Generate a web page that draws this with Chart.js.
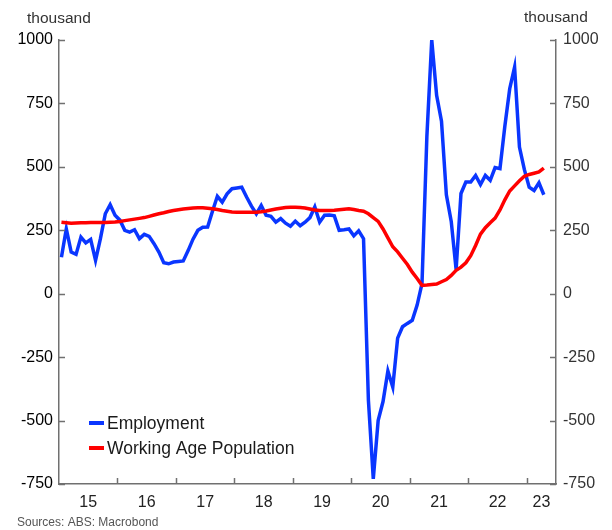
<!DOCTYPE html>
<html>
<head>
<meta charset="utf-8">
<script src="https://cdn.jsdelivr.net/npm/chart.js@4/dist/chart.umd.min.js"></script>
<style>
  html,body{margin:0;padding:0;background:#fff;}
  #wrap{position:relative;width:612px;height:530px;}
</style>
</head>
<body>
<div id="wrap"><canvas id="c" width="612" height="530"></canvas></div>
<script>
// monthly, Jan 2015 .. Apr 2023 (thousand, y/y change)
const startYear = 2015;
const employment = [
  144,256,164,155,223,200,214,131,217,315,351,309,
  290,250,243,252,217,234,226,197,164,122,118,125,
  127,129,170,215,250,262,263,325,384,361,394,414,
  417,420,381,345,315,348,309,305,282,296,278,266,
  286,268,282,300,342,282,309,310,307,250,252,255,
  228,248,217,-420,-730,-500,-425,-305,-368,-175,-130,-117,
  -105,-45,40,620,1000,782,680,390,285,95,395,440,
  440,466,430,466,447,497,493,660,808,893,578,490,
  420,407,437,390
];
const population = [
  282,280,278,279,280,280,281,281,281,281,282,283,
  285,288,291,294,297,300,305,310,315,319,324,328,
  331,334,336,338,339,339,337,335,332,328,325,322,
  321,321,321,321,321,323,326,330,334,337,340,341,
  341,340,338,334,330,328,328,328,329,331,333,335,
  332,328,325,315,300,285,255,220,185,165,140,115,
  85,60,33,34,36,38,47,56,72,92,105,122,
  150,190,235,260,280,298,330,370,405,425,445,463,
  470,475,480,495
];
const yearLabels = ['15','16','17','18','19','20','21','22','23'];
const seriesNames = ['Employment','Working Age Population'];
const yTicks = [-750,-500,-250,0,250,500,750,1000];
const xMaxMonths = 102; // axis ends mid-2023

const FONT = '"Liberation Sans", Arial, sans-serif';
const BLUE = '#0a36ff', RED = '#ff0000', AXIS = '#707070';

const toPts = arr => arr.map((v,i) => ({x: i + 0.5, y: v}));
// label positions: centre of each visible year span
const yearCenters = yearLabels.map((l,k) => {
  const a = k*12, b = Math.min((k+1)*12, xMaxMonths);
  return (a + b) / 2;
});

const extras = {
  id: 'extras',
  afterDraw(chart){
    const ctx = chart.ctx, ca = chart.chartArea;
    const ys = chart.scales.y, xs = chart.scales.x;
    ctx.save();
    ctx.strokeStyle = AXIS; ctx.lineWidth = 1.5;
    ctx.beginPath();
    yTicks.forEach(v => {
      const py = Math.round(ys.getPixelForValue(v)) + 0.5;
      ctx.moveTo(ca.left, py); ctx.lineTo(ca.left + 6, py);
      ctx.moveTo(ca.right, py); ctx.lineTo(ca.right - 6, py);
    });
    for (let k = 1; k < yearLabels.length; k++){
      const px = Math.round(xs.getPixelForValue(k*12)) + 0.5;
      ctx.moveTo(px, ca.bottom); ctx.lineTo(px, ca.bottom - 6);
    }
    ctx.stroke();

    // unit labels + source
    ctx.fillStyle = '#333';
    ctx.font = '15.5px ' + FONT;
    ctx.textBaseline = 'middle';
    ctx.textAlign = 'left';
    ctx.fillText('thousand', 27, 19);
    ctx.fillText('thousand', 524, 18);
    ctx.fillStyle = '#555';
    ctx.font = '12px ' + FONT;
    ctx.fillText('Sources: ABS: Macrobond', 17, 523);

    // legend inside plot
    const leg = [[seriesNames[0], BLUE, 423], [seriesNames[1], RED, 448]];
    ctx.font = '17.5px ' + FONT;
    ctx.lineWidth = 4;
    leg.forEach(([name, col, y]) => {
      ctx.strokeStyle = col;
      ctx.beginPath(); ctx.moveTo(89, y); ctx.lineTo(104, y); ctx.stroke();
      ctx.fillStyle = '#1a1a1a';
      ctx.fillText(name, 107, y + 1);
    });
    ctx.restore();
  }
};

new Chart(document.getElementById('c').getContext('2d'), {
  type: 'line',
  data: {
    datasets: [
      { label: seriesNames[0], data: toPts(employment), borderColor: BLUE, borderWidth: 3.5, pointRadius: 0, order: 1 },
      { label: seriesNames[1], data: toPts(population), borderColor: RED, borderWidth: 3.5, pointRadius: 0, order: 0 }
    ]
  },
  options: {
    responsive: false, animation: false,
    layout: { padding: { top: 40, left: 0, right: 0, bottom: 0 } },
    plugins: { legend: { display: false }, tooltip: { enabled: false } },
    scales: {
      x: {
        type: 'linear', min: 0, max: xMaxMonths,
        afterBuildTicks: s => { s.ticks = yearCenters.map(v => ({ value: v })); },
        afterFit: s => { s.height = 46; },
        ticks: { autoSkip: false, maxRotation: 0, padding: 9, color: '#222', font: { family: FONT, size: 16 },
          callback: (v, i) => yearLabels[i] },
        grid: { display: false, drawTicks: false },
        border: { display: true, color: AXIS, width: 1.5 }
      },
      y: {
        position: 'left', min: -750, max: 1000,
        afterBuildTicks: s => { s.ticks = yTicks.map(v => ({ value: v })); },
        afterFit: s => { s.width = 59; },
        ticks: { padding: 6, color: '#000', font: { family: FONT, size: 16 }, callback: v => String(v) },
        grid: { display: false, drawTicks: false },
        border: { display: true, color: AXIS, width: 1.5 }
      },
      y2: {
        position: 'right', min: -750, max: 1000,
        afterBuildTicks: s => { s.ticks = yTicks.map(v => ({ value: v })); },
        afterFit: s => { s.width = 56; },
        ticks: { padding: 7, color: '#333', font: { family: FONT, size: 16 }, callback: v => String(v) },
        grid: { display: false, drawTicks: false },
        border: { display: true, color: AXIS, width: 1.5 }
      }
    }
  },
  plugins: [extras]
});
</script>
</body>
</html>
